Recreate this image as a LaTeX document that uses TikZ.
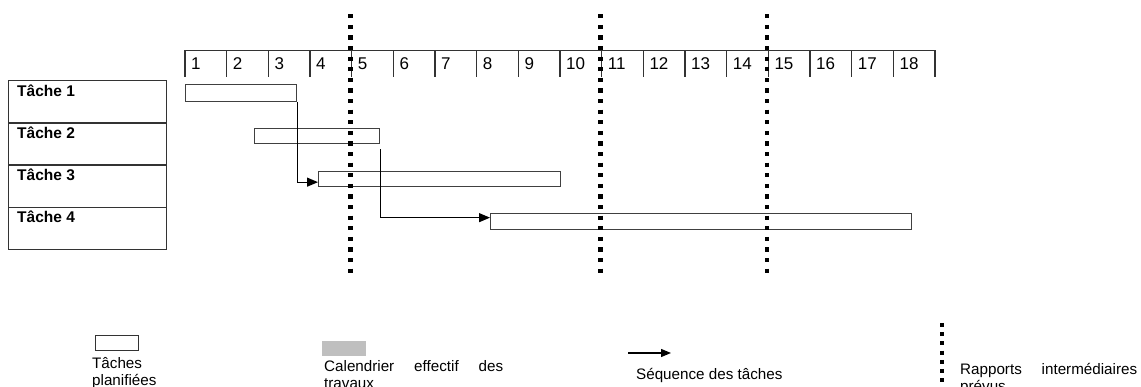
\documentclass[tikz,border=0pt]{standalone}
\usepackage{fontspec}
\setmainfont{Liberation Sans}
\usetikzlibrary{arrows.meta}
\definecolor{actual}{HTML}{BFBFBF}
\tikzset{
  frame/.style={draw=black!80, line width=1.3pt, inner sep=0pt, anchor=north west},
  bar/.style={draw=black!75, line width=1.3pt, inner sep=0pt, anchor=north west},
  tickline/.style={draw=black!80, line width=1.3pt},
  report/.style={draw=black, line width=4.3pt, dash pattern=on 4.2pt off 6.4pt},
  seq/.style={draw=black, line width=1.2pt, -{Triangle[length=11pt,width=9pt]}},
  num/.style={font=\fontsize{17}{17}\selectfont, anchor=base west, inner sep=0pt},
  task/.style={font=\bfseries\fontsize{15.5}{16}\selectfont, anchor=base west, inner sep=0pt},
  leg/.style={font=\fontsize{15.2}{17}\selectfont, anchor=base west, inner sep=0pt},
}
\begin{document}
\begin{tikzpicture}[x=1pt,y=-1pt]
\useasboundingbox (0,0) rectangle (1141,387);

% timeline
\coordinate (tl0) at (185,50.5);
\coordinate (tl1) at (935,50.5);
\draw[tickline] (tl0) -- (tl1);
\foreach \i in {0,...,18} {
  \coordinate (tk\i) at ({185+\i*41.667},50.5);
  \draw[tickline] (tk\i) -- ++(0,27);
}
\foreach \i in {1,...,18} {
  \node[num] (n\i) at ({185+(\i-1)*41.667+6},70) {\i};
}

% task table
\node[frame, minimum width=158pt, minimum height=42.25pt] (r1) at (8,80) {};
\node[frame, minimum width=158pt, minimum height=42.25pt] (r2) at (8,122.25) {};
\node[frame, minimum width=158pt, minimum height=42.25pt] (r3) at (8,164.5) {};
\node[frame, minimum width=158pt, minimum height=42.25pt] (r4) at (8,206.75) {};
\node[task] (l1) at (17,96.5) {Tâche 1};
\node[task] (l2) at (17,138.5) {Tâche 2};
\node[task] (l3) at (17,180.5) {Tâche 3};
\node[task] (l4) at (17,222.5) {Tâche 4};

% planned bars
\node[bar, minimum width=111pt, minimum height=17pt] (b1) at (185,84) {};
\node[bar, minimum width=125pt, minimum height=15pt] (b2) at (254,128) {};
\node[bar, minimum width=242pt, minimum height=15pt] (b3) at (318,171) {};
\node[bar, minimum width=421pt, minimum height=16pt] (b4) at (490,213) {};

% sequences
\draw[seq] (b1.south east) |- ([yshift=-3pt]b3.west);
\draw[seq] ([yshift=-5pt]b2.south east) |- ([yshift=4pt]b4.west);

% report lines
\coordinate (d1a) at (350.5,14.3); \coordinate (d1b) at (350.5,274);
\coordinate (d2a) at (600.5,14.3); \coordinate (d2b) at (600.5,274);
\coordinate (d3a) at (767.3,14.3); \coordinate (d3b) at (767.3,274);
\draw[report] (d1a) -- (d1b);
\draw[report] (d2a) -- (d2b);
\draw[report] (d3a) -- (d3b);

% legend
\node[frame, minimum width=43pt, minimum height=15pt] (lg1) at (95,335) {};
\node[fill=actual, inner sep=0pt, anchor=north west, minimum width=44pt, minimum height=15pt] (lg2) at (322,341) {};
\coordinate (la1) at (628,353);
\coordinate (la2) at (671,353);
\draw[seq, -{Triangle[length=10pt,width=8pt]}] (la1) -- (la2);
\coordinate (lr1) at (942,323);
\coordinate (lr2) at (942,382);
\draw[report, line width=4pt, dash pattern=on 4pt off 5.2pt] (lr1) -- (lr2);

\node[leg] (tx1a) at (92,368.5) {Tâches};
\node[leg] (tx1b) at (92,385.5) {planifiées};
\node[leg] (tx2a) at (324,371.7) {\makebox[179pt][s]{Calendrier effectif des}};
\node[leg] (tx2b) at (324,388.5) {travaux};
\node[leg] (tx3) at (636,379.3) {Séquence des tâches};
\node[leg] (tx4a) at (960,374.3) {\makebox[177pt][s]{Rapports intermédiaires}};
\node[leg] (tx4b) at (960,391.3) {prévus};
\end{tikzpicture}
\end{document}
